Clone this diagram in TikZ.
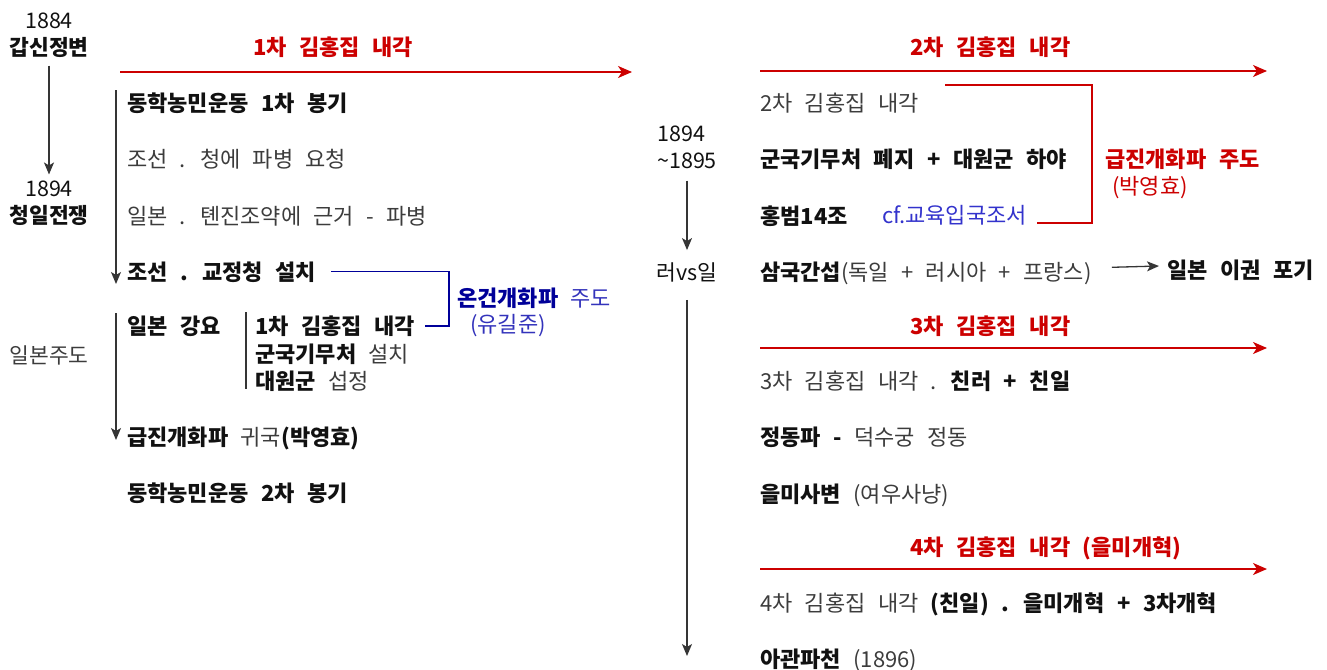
\documentclass[tikz,border=0pt]{standalone}
\usepackage{fontspec}
\setmainfont{Noto Sans CJK KR}[WordSpace=2.5]
\usepackage{xcolor}
\usetikzlibrary{arrows.meta,positioning}
\definecolor{ink}{HTML}{111111}
\definecolor{mute}{HTML}{3C3C3C}
\definecolor{cabinet}{HTML}{CC0000}
\definecolor{navy}{HTML}{000099}
\definecolor{sky}{HTML}{3333BB}
\definecolor{cfblue}{HTML}{3333CC}
\newcommand{\kw}[1]{{\bfseries #1}}
\newcommand{\lite}[1]{\textcolor{mute}{#1}}

\begin{document}
\begin{tikzpicture}[x=1pt,y=-1pt,node distance=29.3pt and 0pt]
  \tikzstyle{row}=[anchor=west,inner sep=0pt,text height=22pt,text depth=4.4pt,font=\fontsize{22}{26}\selectfont,text=ink]
  \tikzstyle{cabtitle}=[row,font=\fontsize{22}{26}\selectfont\bfseries,text=cabinet]
  \tikzstyle{era}=[align=center,inner sep=0pt,font=\fontsize{21.5}{27}\selectfont,text=ink]
  \tikzstyle{period}=[draw=cabinet,line width=1.8pt,-{Stealth[length=14pt,width=12pt,inset=4pt]}]
  \tikzstyle{flow}=[draw=ink!85,line width=1.3pt,-{Stealth[length=12pt,width=10pt,inset=3pt]}]
  \useasboundingbox (0,0) rectangle (1327,669);

  % left: years
  \node[era] (y1884) at (49,35) {1884\\\kw{갑신정변}};
  \node[era] (y1894) at (49,203) {1894\\\kw{청일전쟁}};
  \node[era,text=mute] (jplead) at (49,355) {일본주도};
  \draw[flow,shorten <=8pt,shorten >=6pt] (y1884) -- (y1894);

  % 1st cabinet
  \node[cabtitle] (cab1) at (253,47) {1차 김홍집 내각};
  \coordinate (c1s) at (120,72);
  \coordinate (c1e) at (632,72);
  \draw[period] (c1s) -- (c1e);

  \node[row] (l1) at (127,103) {\kw{동학농민운동 1차 봉기}};
  \node[row,below right=of l1.south west] (l2) {\lite{조선 . 청에 파병 요청}};
  \node[row,below right=of l2.south west] (l3) {\lite{일본 . 톈진조약에 근거 - 파병}};
  \node[row,below right=of l3.south west] (l4) {\kw{조선 . 교정청 설치}};
  \node[row] (l5) at (127,326) {\kw{일본 강요}};
  \node[row] (s1) at (255,326) {\kw{1차 김홍집 내각}};
  \node[row,below right=0.6pt and 0pt of s1.south west] (s2) {\kw{군국기무처} \lite{설치}};
  \node[row,below right=0.6pt and 0pt of s2.south west] (s3) {\kw{대원군} \lite{섭정}};
  \node[row] (l6) at (127,437) {\kw{급진개화파} \lite{귀국}\kw{(박영효)}};
  \node[row,below right=of l6.south west] (l7) {\kw{동학농민운동 2차 봉기}};

  \coordinate (t1a) at (116,90);
  \coordinate (t1b) at (116,284);
  \draw[flow] (t1a) -- (t1b);
  \coordinate (t2a) at (116,313);
  \coordinate (t2b) at (116,440);
  \draw[flow] (t2a) -- (t2b);
  \coordinate (b1a) at (246,312);
  \coordinate (b1b) at (246,389);
  \draw[ink!85,line width=1.3pt] (b1a) -- (b1b);

  % moderate reformists
  \coordinate (mtx) at (449,0);
  \draw[navy,line width=1.5pt] ([xshift=15pt]l4.east) -- (l4.east -| mtx) |- ([xshift=10pt]s1.east);
  \node[row,text=navy] (mod) at (457,298) {\kw{온건개화파} \textcolor{sky}{주도}};
  \node[row,text=sky] (modp) at (470,324) {(유길준)};

  % middle: years
  \node[era,align=left,anchor=west] (y1895) at (657,147) {1894\\\textasciitilde1895};
  \node[era] (rvj) at (687,272) {러vs일};
  \coordinate (tail) at (687,656);
  \draw[flow,shorten <=12pt,shorten >=12pt] (rvj |- y1895.south) -- (rvj);
  \draw[flow,shorten <=18pt] (rvj) -- (tail);

  % 2nd cabinet
  \node[cabtitle] (cab2) at (910,47) {2차 김홍집 내각};
  \coordinate (c2s) at (760,71);
  \coordinate (c2e) at (1267,71);
  \draw[period] (c2s) -- (c2e);

  \node[row] (q1) at (760,103) {\lite{2차 김홍집 내각}};
  \node[row,below right=of q1.south west] (q2) {\kw{군국기무처 폐지 + 대원군 하야}};
  \node[row,below right=of q2.south west] (q3) {\kw{홍범14조}};
  \node[row,text=cfblue] (cf) at (882,215) {cf.교육입국조서};
  \node[row,below right=of q3.south west] (q4) {\kw{삼국간섭}\lite{(독일 + 러시아 + 프랑스)}};
  \node[row] (q5) at (1167,270) {\kw{일본 이권 포기}};
  \draw[flow,line width=1.3pt] ([xshift=20pt,yshift=4pt]q4.east) -- ([xshift=-8pt,yshift=4pt]q5.west);

  % radical reformists
  \coordinate (rbs) at (945,85);
  \coordinate (rbx) at (1092,0);
  \draw[cabinet,line width=1.5pt] (rbs) -- (rbs -| rbx) |- ([xshift=10pt,yshift=-8pt]cf.east);
  \node[row,text=cabinet] (rad) at (1105,159) {\kw{급진개화파 주도}};
  \node[row,text=cabinet] (radp) at (1112,186) {(박영효)};

  % 3rd cabinet
  \node[cabtitle] (cab3) at (910,326) {3차 김홍집 내각};
  \coordinate (c3s) at (760,348);
  \coordinate (c3e) at (1267,348);
  \draw[period] (c3s) -- (c3e);

  \node[row] (q6) at (760,381) {\lite{3차 김홍집 내각 .} \kw{친러 + 친일}};
  \node[row,below right=of q6.south west] (q7) {\kw{정동파 -} \lite{덕수궁 정동}};
  \node[row,below right=of q7.south west] (q8) {\kw{을미사변} \lite{(여우사냥)}};

  % 4th cabinet
  \node[cabtitle] (cab4) at (910,547) {4차 김홍집 내각 (을미개혁)};
  \coordinate (c4s) at (760,569);
  \coordinate (c4e) at (1267,569);
  \draw[period] (c4s) -- (c4e);

  \node[row] (q9) at (760,603) {\lite{4차 김홍집 내각} \kw{(친일) . 을미개혁 + 3차개혁}};
  \node[row,below right=of q9.south west] (q10) {\kw{아관파천} \lite{(1896)}};
\end{tikzpicture}
\end{document}
